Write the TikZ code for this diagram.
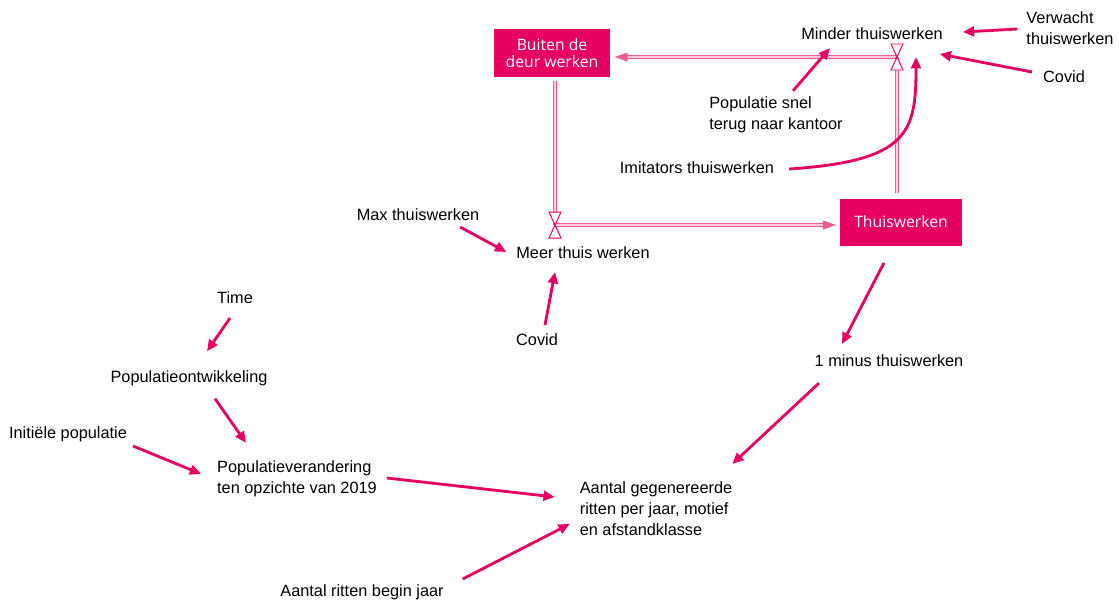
\documentclass[tikz,border=0pt]{standalone}
\usepackage{fontspec}
\setmainfont{Liberation Sans}
\newfontfamily\stockfont{Open Sans}
\usetikzlibrary{arrows.meta}
\definecolor{vensimred}{RGB}{230,0,98}
\definecolor{pipepink}{RGB}{238,90,145}
\definecolor{pipelight}{RGB}{250,205,222}

\begin{document}
\begin{tikzpicture}[
    x=0.025cm, y=-0.025cm,
    var/.style={font=\fontsize{11.6}{14.9}\selectfont, align=left, inner sep=2pt},
    stock/.style={rectangle, fill=vensimred, text=white, font=\stockfont\fontsize{11.2}{12.5}\selectfont, minimum width=2.9cm, minimum height=1.175cm, align=center},
    link/.style={-{Triangle[length=8pt,width=7pt]}, draw=vensimred, line width=2pt},
    pipe/.style={draw=pipepink, double=pipelight, line width=0.8pt, double distance=1.5pt},
    pipehead/.style={fill=pipepink},
    valve/.style={draw=vensimred, fill=white, line width=0.7pt, line join=miter}
]
    \useasboundingbox (0,0) rectangle (1119,601);

    % stocks
    \node[stock] (buiten) at (552,53) {Buiten de\\deur werken};
    \node[stock, minimum width=3.025cm] (thuis) at (901,222) {Thuiswerken};

    % flow valves
    \coordinate (vMinder) at (897,57);
    \coordinate (vMeer) at (555,225);
    \coordinate (tipBuiten) at (vMinder -| buiten.east);
    \coordinate (tipThuis) at (vMeer -| thuis.west);

    % variables
    \node[var] (minder) at (872,34) {Minder thuiswerken};
    \node[var] (verwacht) at (1070,28) {Verwacht\\thuiswerken};
    \node[var] (covidR) at (1064,77) {Covid};
    \node[var] (popsnel) at (776,115) {Populatie snel\\terug naar kantoor};
    \node[var] (imitators) at (697,168) {Imitators thuiswerken};
    \node[var] (maxthuis) at (418,215) {Max thuiswerken};
    \node[var] (meer) at (583,253) {Meer thuis werken};
    \node[var] (covidL) at (537,340) {Covid};
    \node[var] (minus) at (889,361) {1 minus thuiswerken};
    \node[var] (time) at (235,298) {Time};
    \node[var] (popontw) at (189,378) {Populatieontwikkeling};
    \node[var] (initiele) at (68,434) {Initiële populatie};
    \node[var] (popver) at (297,479) {Populatieverandering\\ten opzichte van 2019};
    \node[var] (aantal) at (656,509) {Aantal gegenereerde\\ritten per jaar, motief\\en afstandklasse};
    \node[var] (beginjaar) at (362,592) {Aantal ritten begin jaar};

    % pipes
    \draw[pipe, shorten >=10pt] (vMinder) -- (tipBuiten);
    \fill[pipehead] ([xshift=3pt]tipBuiten) -- ++(13,-4.5) -- ++(0,9) -- cycle;
    \draw[pipe, shorten <=4pt] (thuis.north -| vMinder) -- (vMinder);
    \draw[pipe, shorten <=3pt] (buiten.south -| vMeer) -- (vMeer);
    \draw[pipe, shorten >=10pt] (vMeer) -- (tipThuis);
    \fill[pipehead] ([xshift=-3pt]tipThuis) -- ++(-13,-4.5) -- ++(0,9) -- cycle;

    \draw[valve] (vMinder) ++(-6,-13) -- ++(12,0) -- (vMinder) -- ++(-6,13) -- ++(12,0) -- cycle;
    \draw[valve] (vMeer) ++(-6,-13) -- ++(12,0) -- (vMeer) -- ++(-6,13) -- ++(12,0) -- cycle;

    % links
    \draw[link] ([shift={(-6,1)}]verwacht.west) -- ([shift={(17,-2)}]minder.east);
    \draw[link] ([shift={(-8,-5)}]covidR.west) -- ([shift={(-6,11)}]minder.south east);
    \draw[link] ([shift={(17,-3)}]popsnel.north) -- ([shift={(-42,5)}]minder.south);
    \draw[link] ([shift={(12,1)}]imitators.east) .. controls +(120,-8) and +(0,75) .. ([shift={(44,14)}]minder.south);
    \draw[link] ([shift={(-22,3)}]maxthuis.south east) -- ([shift={(-7,-1)}]meer.west);
    \draw[link] ([shift={(8,-6)}]covidL.north) -- ([shift={(-28,10)}]meer.south);
    \draw[link] ([shift={(-17,17)}]thuis.south) -- ([shift={(-47,-8)}]minus.north);
    \draw[link] ([shift={(-70,13)}]minus.south) -- ([shift={(-3,-15)}]aantal.north east);
    \draw[link] ([shift={(-5,11)}]time.south) -- ([shift={(18,-16)}]popontw.north);
    \draw[link] ([shift={(26,10)}]popontw.south) -- ([shift={(-51,-15)}]popver.north);
    \draw[link] ([shift={(3,12)}]initiele.east) -- ([shift={(-13,-5)}]popver.west);
    \draw[link] ([shift={(7,-1)}]popver.east) -- ([shift={(-22,-12)}]aantal.west);
    \draw[link] ([shift={(16,-13)}]beginjaar.east) -- ([shift={(-7,15)}]aantal.west);
\end{tikzpicture}
\end{document}
